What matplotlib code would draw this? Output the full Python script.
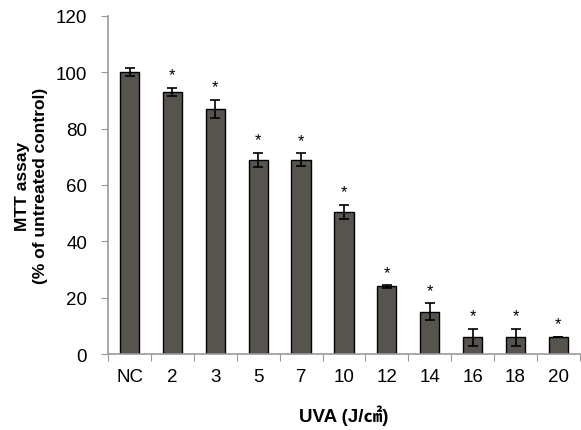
import numpy as np
import matplotlib.pyplot as plt

# --- data ---
categories = ["NC", "2", "3", "5", "7", "10", "12", "14", "16", "18", "20"]
values = [100, 93, 87, 69, 69, 50.5, 24, 15, 6, 6, 6]
errors = [1.5, 1.5, 3.2, 2.5, 2.2, 2.5, 0.4, 3.0, 3.0, 3.0, 0]
significant = [False, True, True, True, True, True, True, True, True, True, True]

plt.rcParams['font.family'] = ['Liberation Sans', 'Noto Sans CJK KR', 'DejaVu Sans']

fig = plt.figure(figsize=(5.81, 4.31), dpi=100)
ax = fig.add_axes([0.186, 0.176, 0.812, 0.785])

x = np.arange(len(categories))
ax.bar(x, values, width=0.45, color='#575450', edgecolor='black', linewidth=1.0,
       yerr=errors, error_kw=dict(ecolor='black', elinewidth=1.2, capsize=3.5, capthick=1.2))

for xi, v, e, s in zip(x, values, errors, significant):
    if s:
        ax.text(xi, v + e + 2.0, "*", ha='center', va='bottom', fontsize=12)

ax.set_xlim(-0.5, len(categories) - 0.5)
ax.set_ylim(0, 120)
ax.set_yticks(np.arange(0, 121, 20))

# Excel-style category axis: ticks at boundaries, labels at centres
ax.set_xticks(np.arange(-0.5, len(categories), 1.0))
ax.set_xticklabels([])
ax.set_xticks(x, minor=True)
ax.set_xticklabels(categories, minor=True)
ax.tick_params(axis='x', which='major', direction='out', length=5, color='#999999')
ax.tick_params(axis='x', which='minor', length=0, pad=10, labelsize=13.5)
ax.tick_params(axis='y', direction='out', length=5, color='#999999', labelsize=13.5, pad=10)

for side in ['top', 'right']:
    ax.spines[side].set_visible(False)
for side in ['left', 'bottom']:
    ax.spines[side].set_color('#999999')
    ax.spines[side].set_linewidth(1.2)

ax.set_ylabel("MTT assay\n(% of untreated control)", fontsize=12.5, fontweight='bold', labelpad=6)
ax.set_xlabel("UVA (J/㎠)", fontsize=13.5, fontweight='bold', labelpad=14)

fig.savefig("out.png", dpi=100)
